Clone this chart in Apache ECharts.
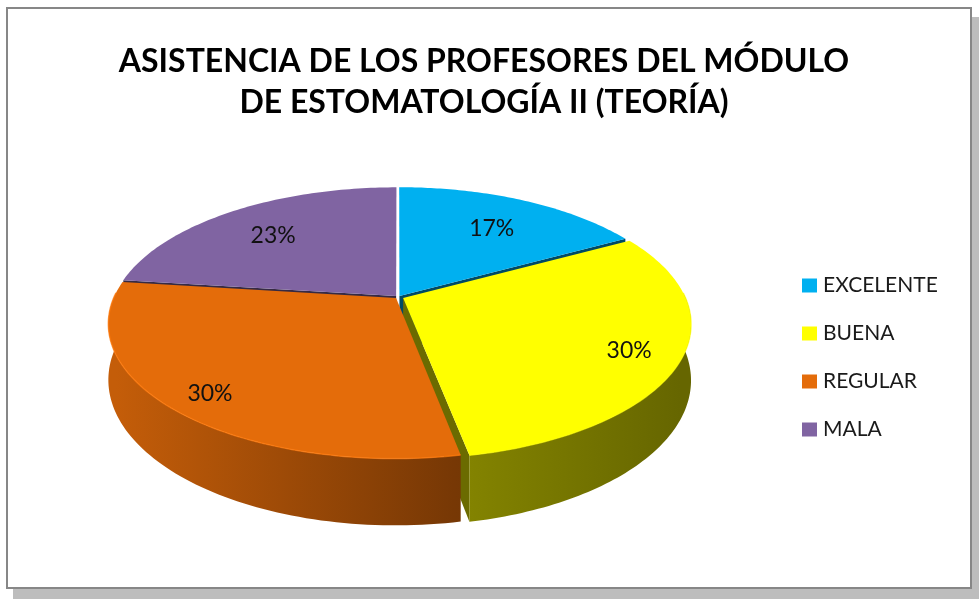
<!DOCTYPE html>
<html>
<head>
<meta charset="utf-8">
<title>Asistencia de los profesores</title>
<script src="https://cdn.jsdelivr.net/npm/echarts@6/dist/echarts.min.js"></script>
<style>
    html, body { margin: 0; padding: 0; background: #fff; }
    #frame {
        position: absolute; left: 6px; top: 7px; width: 962px; height: 578px;
        border: 2px solid #878787; box-shadow: 7px 10px 0 #bdbdbd; background: #fff;
    }
    #main { position: absolute; left: 0; top: 0; width: 979px; height: 599px; }
</style>
</head>
<body>
<div id="frame"></div>
<div id="main"></div>
<script>
// Datos del grafico
const categories = ['EXCELENTE', 'BUENA', 'REGULAR', 'MALA'];
const percents = [17, 30, 30, 23];

// Colores de la cara superior
const topColors = ['#00B0F0', '#FFFF00', '#E46C0A', '#8064A2'];
// Separacion de cada porcion (fraccion del radio)
const explode = [0.01, 0.02, 0.01, 0.01];

// Geometria de la "tarta 3D"
const CX = 398, CY = 297, RX = 282, RY = 129.7, PERSP = 0.19, DEPTH = 54;

function shade(hex, f) {
    let n = parseInt(hex.slice(1), 16);
    let r = Math.min(255, Math.round(((n >> 16) & 255) * f));
    let g = Math.min(255, Math.round(((n >> 8) & 255) * f));
    let b = Math.min(255, Math.round((n & 255) * f));
    return `rgb(${r},${g},${b})`;
}

/**
 * Dibuja una porcion (cara superior, pared exterior, paredes de corte y etiqueta)
 */
function renderSlice(params, api) {
    let i = params.seriesIndex;
    let total = percents.reduce((s, v) => s + v, 0);
    let before = 0;
    for (let k = 0; k < i; k++) before += percents[k];

    let a = before / total * 2 * Math.PI;
    let b = (before + percents[i]) / total * 2 * Math.PI;
    let mid = (a + b) / 2;
    let ox = explode[i] * Math.sin(mid);
    let oy = explode[i] * Math.cos(mid);
    let col = topColors[i];

    // proyeccion con perspectiva simple
    function P(ang, r, h) {
        let u = ox + r * Math.sin(ang);
        let v = oy + r * Math.cos(ang);
        let s = 1 / (1 + PERSP * v);
        return [CX + RX * u * s, CY - RY * v * s + h * DEPTH * s];
    }

    let children = [];
    const N = 80;

    // cara superior
    let top = [P(0, 0, 0)];
    for (let n = 0; n <= N; n++) top.push(P(a + (b - a) * n / N, 1, 0));
    children.push({ type: 'polygon', shape: { points: top }, style: { fill: col }, z2: 3 });

    // pared exterior (solo la parte frontal)
    let lo = Math.max(a, Math.PI / 2 - 0.04);
    let hi = Math.min(b, 3 * Math.PI / 2 + 0.04);
    if (hi > lo) {
        let upper = [], lower = [];
        for (let n = 0; n <= N; n++) {
            let t = lo + (hi - lo) * n / N;
            upper.push(P(t, 1, 0));
            lower.push(P(t, 1, 1));
        }
        let fill = new echarts.graphic.LinearGradient(CX - RX, 0, CX + RX, 0, [
            { offset: 0, color: shade(col, 0.86) },
            { offset: 0.6, color: shade(col, 0.52) },
            { offset: 1, color: shade(col, 0.4) }
        ], true);
        children.push({
            type: 'polygon',
            shape: { points: upper.concat(lower.reverse()) },
            style: { fill: fill },
            z2: 2
        });
        // brillo del borde
        children.push({
            type: 'polyline',
            shape: { points: upper },
            style: { stroke: shade(col, 1.12), lineWidth: 1.5, fill: null, opacity: 0.7 },
            z2: 4
        });
    }

    // paredes de corte visibles
    [[a, a - Math.PI / 2], [b, b + Math.PI / 2]].forEach(([ang, nrm]) => {
        if (Math.cos(nrm) < -0.01) {
            children.push({
                type: 'polygon',
                shape: { points: [P(ang, 0, 0), P(ang, 1, 0), P(ang, 1, 1), P(ang, 0, 1)] },
                style: { fill: shade(col, 0.42) },
                z2: 1
            });
        }
    });

    // etiqueta de porcentaje
    let lp = P(mid, 0.79 - 0.08 * Math.cos(mid), 0);
    children.push({
        type: 'text',
        x: lp[0], y: lp[1] + 4,
        style: {
            text: percents[i] + '%',
            fontFamily: 'Lato', fontSize: 23, fill: '#111',
            align: 'center', verticalAlign: 'middle'
        },
        z2: 5
    });

    return { type: 'group', children: children };
}

let chart = echarts.init(document.getElementById('main'));

let option = {
    animation: false,
    title: {
        text: 'ASISTENCIA DE LOS PROFESORES DEL MÓDULO\nDE ESTOMATOLOGÍA II (TEORÍA)',
        left: 479, top: 36, textAlign: 'center',
        textStyle: { fontFamily: 'Lato', fontWeight: 'bold', fontSize: 32, lineHeight: 41, color: '#000' }
    },
    legend: {
        orient: 'vertical',
        left: 797, top: 270,
        itemWidth: 15, itemHeight: 14, itemGap: 27,
        icon: 'rect',
        data: categories,
        textStyle: { fontFamily: 'Lato', fontSize: 21, color: '#1a1a1a', padding: [0, 0, 0, 1] }
    },
    series: categories.map((name, i) => ({
        name: name,
        type: 'custom',
        coordinateSystem: 'none',
        renderItem: renderSlice,
        itemStyle: { color: topColors[i] },
        data: [percents[i]]
    }))
};

chart.setOption(option);
window.addEventListener('resize', () => chart.resize());
</script>
</body>
</html>
